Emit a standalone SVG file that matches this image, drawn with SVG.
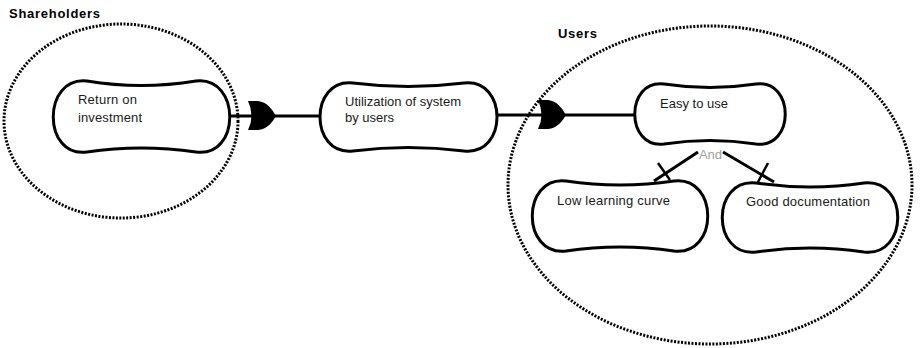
<svg xmlns="http://www.w3.org/2000/svg" xmlns:xlink="http://www.w3.org/1999/xlink" width="920" height="348" viewBox="0 0 920 348">
<style>
.bg{fill:#fff}
.grp{fill:none;stroke:#000;stroke-width:3;stroke-dasharray:2 1.5}
.node{fill:#fff;stroke:#000;stroke-width:3}
.conn{stroke:#000;stroke-width:3;fill:none}
.tick{stroke:#000;stroke-width:2.5;fill:none}
.lbl{font-family:"Liberation Sans",Arial,sans-serif;font-size:13px;fill:#1a1a1a}
.title{font-family:"Liberation Sans",Arial,sans-serif;font-size:13px;font-weight:bold;fill:#000}
.and{font-family:"Liberation Sans",Arial,sans-serif;font-size:13px;fill:#a0a0a0}
</style>
<defs>
<path id="ah" d="M0,-15 L10,-15 C19,-14 24,-7 28,0 C24,7 19,13 10,14 L0,14 Q7,0 0,-15 Z" fill="#000"/>
</defs>
<rect class="bg" x="0" y="0" width="920" height="348"/>
<g id="group-shareholders">
<ellipse class="grp" cx="121" cy="121" rx="117" ry="97"/>
<text class="title" x="9" y="18" textLength="91" lengthAdjust="spacing">Shareholders</text>
</g>
<g id="group-users">
<ellipse class="grp" cx="710" cy="185" rx="202" ry="159"/>
<text class="title" x="558" y="38" textLength="39" lengthAdjust="spacing">Users</text>
</g>
<g id="connectors">
<line class="conn" x1="230" y1="116" x2="320" y2="116"/>
<use xlink:href="#ah" href="#ah" x="248" y="116"/>
<line class="conn" x1="497" y1="115" x2="635" y2="115"/>
<use xlink:href="#ah" href="#ah" x="538" y="115"/>
<line class="conn" x1="698" y1="152" x2="654" y2="181"/>
<line class="tick" x1="658" y1="163" x2="670" y2="180"/>
<line class="conn" x1="723" y1="152" x2="774" y2="182"/>
<line class="tick" x1="768" y1="163" x2="758" y2="182"/>
<text class="and" x="699" y="159" textLength="23" lengthAdjust="spacing">And</text>
</g>
<g id="node-roi">
<path class="node" d="M87,81 Q141,90 196,81 C241,76 241,158 196,152 Q141,144 87,152 C42,158 42,76 87,81 Z"/>
<text class="lbl" x="78" y="104" textLength="59" lengthAdjust="spacing">Return on</text>
<text class="lbl" x="78" y="122" textLength="64" lengthAdjust="spacing">investment</text>
</g>
<g id="node-utilization">
<path class="node" d="M353,83 Q408,90 464,83 C508,78 508,156 464,151 Q408,144 353,151 C309,156 309,78 353,83 Z"/>
<text class="lbl" x="345" y="106" textLength="116" lengthAdjust="spacing">Utilization of system</text>
<text class="lbl" x="345" y="122" textLength="49" lengthAdjust="spacing">by users</text>
</g>
<g id="node-easy">
<path class="node" d="M664,84 Q710,91 756,84 C795,79 795,149 756,144 Q710,137 664,144 C625,149 625,79 664,84 Z"/>
<text class="lbl" x="660" y="108" textLength="68" lengthAdjust="spacing">Easy to use</text>
</g>
<g id="node-learning">
<path class="node" d="M566,181 Q620,189 674,181 C719,176 719,256 674,251 Q620,243 566,251 C521,256 521,176 566,181 Z"/>
<text class="lbl" x="557" y="205" textLength="113" lengthAdjust="spacing">Low learning curve</text>
</g>
<g id="node-doc">
<path class="node" d="M756,183 Q810,191 864,183 C909,178 909,257 864,252 Q810,244 756,252 C711,257 711,178 756,183 Z"/>
<text class="lbl" x="746" y="206" textLength="124" lengthAdjust="spacing">Good documentation</text>
</g>
</svg>
